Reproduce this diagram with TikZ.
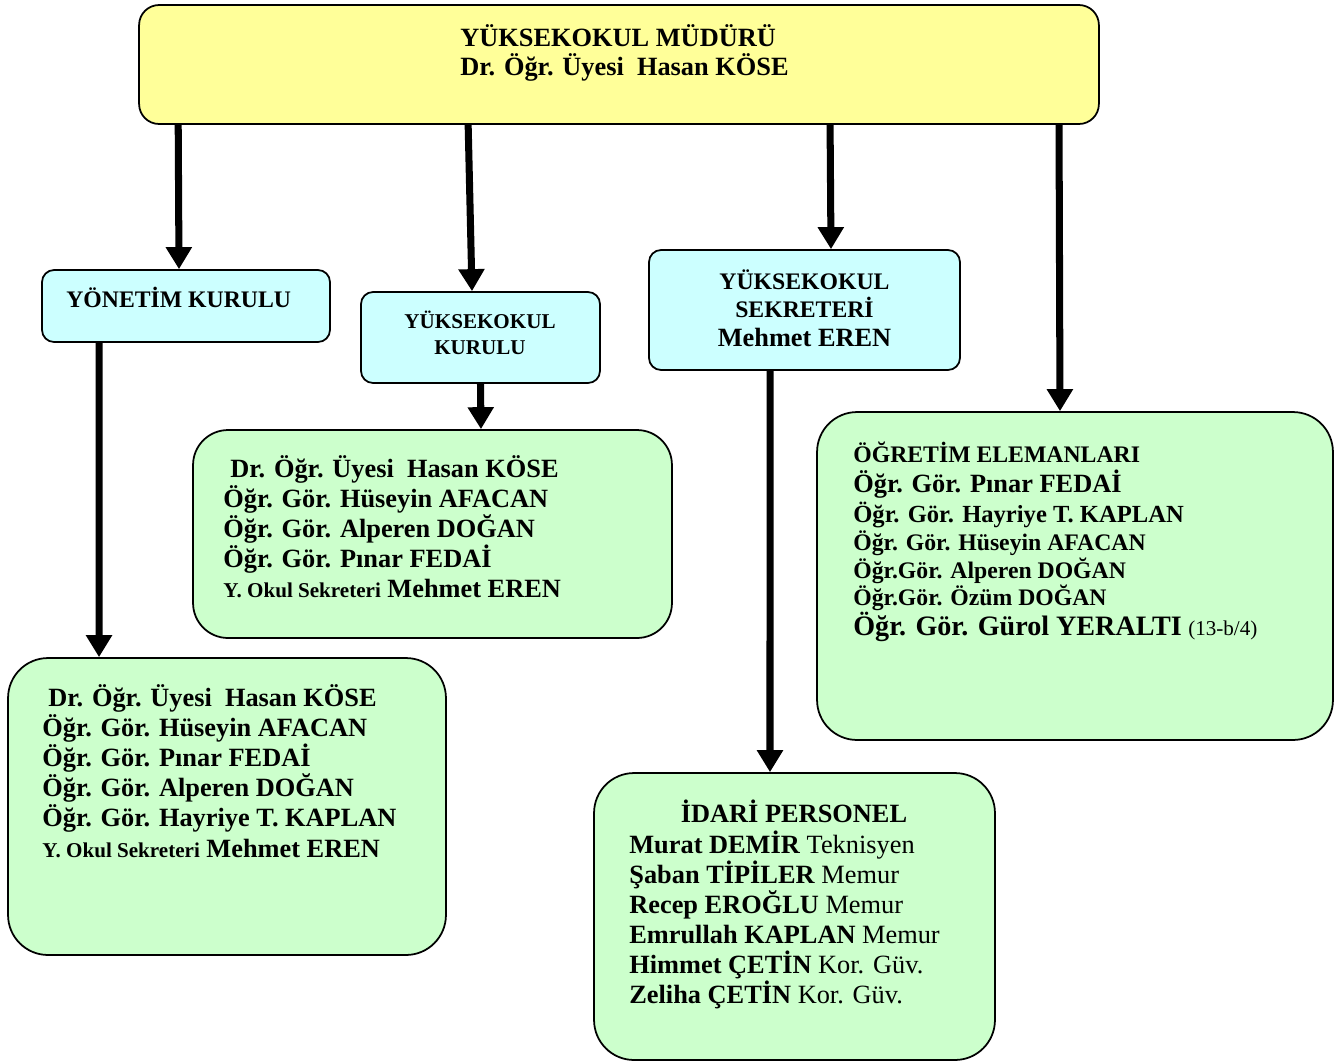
\documentclass[tikz,border=0pt]{standalone}
\usepackage{fontspec}
\setmainfont{Liberation Serif}
\usetikzlibrary{arrows.meta,positioning,calc}
\definecolor{sari}{HTML}{FFFF99}
\definecolor{mavi}{HTML}{CCFFFF}
\definecolor{yesil}{HTML}{CCFFCC}
\newcommand{\buyuk}{\fontsize{15}{17.1}\selectfont}
\newcommand{\orta}{\fontsize{13.5}{17.1}\selectfont}
\newcommand{\kucuk}{\fontsize{12}{17.1}\selectfont}
\tikzset{
  kutu/.style={draw=black,line width=1pt,inner sep=0pt},
  sarikutu/.style={kutu,fill=sari,rounded corners=0.4cm},
  mavikutu/.style={kutu,fill=mavi,rounded corners=0.24cm},
  yesilkutu/.style={kutu,fill=yesil,rounded corners=0.8cm},
  yazi/.style={font=\bfseries\buyuk,align=left,inner sep=0pt,anchor=base west},
  ok/.style={line width=4pt,-{Triangle[width=0.5cm,length=0.44cm]}}
}
\begin{document}
\begin{tikzpicture}[x=0.02cm,y=-0.02cm]
% ==========================================
\useasboundingbox (0,0) rectangle (1339,1063);
%
\node[sarikutu,minimum width=19.2cm,minimum height=2.38cm] (mudur) at (619,64.5) {};
\node[mavikutu,minimum width=5.76cm,minimum height=1.44cm] (yonetim) at (186,306) {};
\node[mavikutu,minimum width=4.78cm,minimum height=1.82cm] (kurulu) at (480.5,337.5) {};
\node[mavikutu,minimum width=6.22cm,minimum height=2.4cm] (sekreter) at (804.5,310) {};
\node[yesilkutu,rounded corners=0.7cm,minimum width=9.58cm,minimum height=4.16cm] (kuruluye) at (432.5,534) {};
\node[yesilkutu,minimum width=10.32cm,minimum height=6.56cm] (ogretim) at (1075,576) {};
\node[yesilkutu,minimum width=8.76cm,minimum height=5.94cm] (yonetimuye) at (227,806.5) {};
\node[yesilkutu,minimum width=8.02cm,minimum height=5.74cm] (idari) at (794.5,916.5) {};
% =============================================
% base of a multi-line node = its last line
\node[yazi,font=\bfseries\fontsize{15}{16.4}\selectfont] (mudurad) at (460,75) {Y\"UKSEKOKUL M\"UD\"UR\"U\\Dr. Öğr. Üyesi\ \ Hasan KÖSE};
\node[yazi,font=\bfseries\orta] (yonetimad) at (66,307) {YÖNETİM KURULU};
\node[yazi,font=\bfseries\fontsize{12}{14.75}\selectfont,align=center,anchor=base] (kuruluad) at (480,354) {YÜKSEKOKUL\\KURULU};
\node[yazi,font=\bfseries\fontsize{13.5}{16.2}\selectfont,align=center,anchor=base] (sekreterad) at (804.5,346) {YÜKSEKOKUL\\SEKRETERİ\\{\buyuk Mehmet EREN}};
%
\node[yazi,font=\bfseries\fontsize{15}{17}\selectfont] (kurululiste) at (223,597) {\hspace{0.14cm}Dr. Öğr. Üyesi\ \ Hasan KÖSE\\
Öğr. Gör. Hüseyin AFACAN\\
Öğr. Gör. Alperen DOĞAN\\
Öğr. Gör. Pınar FEDAİ\\
{\kucuk Y. Okul Sekreteri} Mehmet EREN};
\node[yazi,font=\bfseries\fontsize{15}{17}\selectfont] (ogretimliste) at (853,635) {{\orta ÖĞRETİM ELEMANLARI}\\
Öğr. Gör. Pınar FEDAİ\\
{\fontsize{14}{17}\selectfont Öğr. Gör. Hayriye T. KAPLAN}\\[-1.1pt]
{\orta Öğr. Gör. Hüseyin AFACAN}\\[-1.1pt]
{\orta Öğr.Gör. Alperen DOĞAN}\\[-1.7pt]
{\orta Öğr.Gör. Özüm DOĞAN}\\
{\fontsize{16}{17}\selectfont Öğr. Gör. Gürol YERALTI} {\kucuk\mdseries (13-b/4)}};
\node[yazi] (yonetimliste) at (42,857) {\hspace{0.12cm}Dr. Öğr. Üyesi\ \ Hasan KÖSE\\
Öğr. Gör. Hüseyin AFACAN\\
Öğr. Gör. Pınar FEDAİ\\
Öğr. Gör. Alperen DOĞAN\\
Öğr. Gör. Hayriye T. KAPLAN\\
{\kucuk Y. Okul Sekreteri} Mehmet EREN};
\node[yazi,anchor=base] (idaribaslik) at (794,822) {İDARİ PERSONEL};
\node[yazi,font=\bfseries\fontsize{15}{17}\selectfont] (idariliste) at (629,1003) {Murat DEMİR \textmd{Teknisyen}\\
Şaban TİPİLER \textmd{Memur}\\
Recep EROĞLU \textmd{Memur}\\
Emrullah KAPLAN \textmd{Memur}\\
Himmet ÇETİN \textmd{Kor. Güv.}\\
Zeliha ÇETİN \textmd{Kor. Güv.}};
% =============================================
\draw[ok] ([xshift=0.8cm]mudur.south west) -- ([xshift=-0.14cm]yonetim.north);%Arrow.
\draw[ok] ([xshift=6.6cm]mudur.south west) -- ([xshift=-0.17cm]kurulu.north);%Arrow.
\draw[ok] ([xshift=13.84cm]mudur.south west) -- ([xshift=0.53cm]sekreter.north);%Arrow.
\draw[ok] ([xshift=18.42cm]mudur.south west) -- ([xshift=-0.3cm]ogretim.north);%Arrow.
\draw[ok] ([xshift=-1.74cm]yonetim.south) -- ([xshift=-2.56cm]yonetimuye.north);%Arrow.
\draw[ok] (kurulu.south) -- ([xshift=0.97cm]kuruluye.north);%Arrow.
\draw[ok] ([xshift=-0.69cm]sekreter.south) -- ([xshift=-0.49cm]idari.north);%Arrow.
% =============================================
\end{tikzpicture}
\end{document}
